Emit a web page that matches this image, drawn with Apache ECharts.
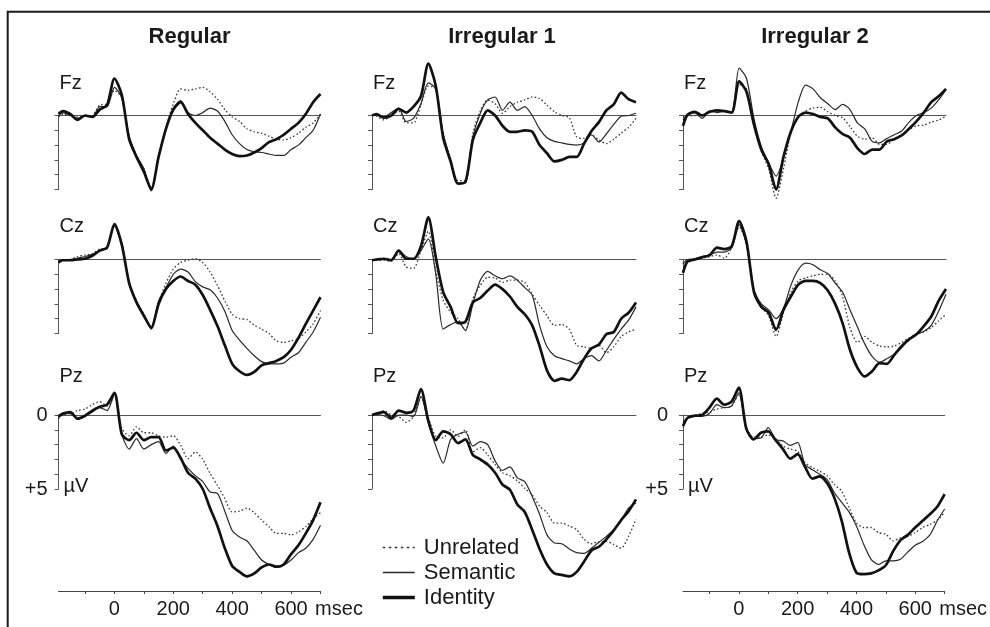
<!DOCTYPE html>
<html><head><meta charset="utf-8">
<script src="https://cdn.jsdelivr.net/npm/echarts@6/dist/echarts.min.js"></script>
<style>html,body{margin:0;padding:0;background:#fff}#c{width:990px;height:627px}</style>
</head><body><div id="c"></div>
<script>
// ---- data (µV, positive plotted downward) ----
const times = [-190,-175,-150,-125,-100,-75,-50,-25,0,25,50,75,100,125,150,175,200,225,250,275,300,325,350,375,400,425,450,475,500,525,550,575,600,625,650,675,700];

const regularFzUnrelated = [0.1,-0.1,0.0,0.1,0.05,0.0,-0.7,-0.8, -1.7,-1.2,1.4,2.7,3.6,4.9,2.7,0.8, -0.8,-1.8,-1.7,-1.8,-1.9,-1.6,-1.1,-0.4, 0.1,0.4,0.9,1.1,1.2,1.4,1.6,1.65, 1.5,1.2,0.8,0.5,-0.1];
const regularFzSemantic  = [0.0,-0.2,0.0,0.2,0.0,0.1,-0.6,-0.6, -1.9,-1.2,1.4,2.7,3.6,5.1,2.8,0.9, -0.5,-1.0,-0.2,0.0,-0.2,-0.5,-0.3,0.4, 1.3,1.9,2.3,2.45,2.5,2.6,2.7,2.7, 2.3,2.0,1.5,1.0,-0.1];
const regularFzIdentity  = [-0.1,-0.3,-0.1,0.3,0.0,0.1,-0.4,-0.7, -2.5,-1.4,1.6,2.8,3.8,5.0,2.8,0.9, -0.4,-0.9,-0.1,0.5,1.0,1.5,1.9,2.3, 2.6,2.75,2.7,2.5,2.2,1.8,1.6,1.3, 0.9,0.5,-0.1,-0.9,-1.45];

const regularCzUnrelated = [0.15,0.05,0.0,-0.2,-0.3,-0.4,-0.7,-0.8, -2.2,-1.1,1.5,2.8,3.7,4.6,2.9,1.6, 0.65,0.2,0.05,-0.05,0.2,0.85,1.75,2.8, 3.7,4.0,4.05,4.45,4.7,5.0,5.5,5.6, 5.5,5.35,4.9,4.35,3.45];
const regularCzSemantic  = [0.1,0.0,0.0,-0.1,-0.2,-0.35,-0.6,-0.8, -2.3,-1.0,1.6,2.9,3.8,4.7,2.8,1.9, 1.0,0.65,0.85,1.5,1.85,2.05,2.6,3.5, 4.8,5.45,6.0,6.5,6.9,7.05,7.05,7.0, 6.6,6.3,5.6,4.9,3.9];
const regularCzIdentity  = [0.2,0.05,0.05,0.0,-0.05,-0.25,-0.6,-0.8, -2.4,-1.0,1.6,2.9,3.8,4.6,3.0,2.0, 1.45,1.15,1.45,1.7,2.4,3.4,4.5,5.8, 7.05,7.55,7.8,7.6,7.15,7.0,6.85,6.6, 6.1,5.3,4.35,3.45,2.55];

const regularPzUnrelated = [0.25,0.0,-0.1,-0.3,-0.4,-0.7,-0.9,-0.6, -1.3,0.9,1.4,0.8,1.2,1.2,1.4,1.5, 1.4,2.05,2.95,2.5,3.0,3.95,4.75,5.65, 6.55,6.5,6.3,6.6,7.1,7.55,8.0,8.0, 8.1,7.9,7.55,7.0,6.6];
const regularPzSemantic  = [0.15,-0.05,-0.1,0.3,0.1,-0.2,-0.5,-0.3, -1.4,1.3,2.3,1.6,2.3,2.0,1.8,2.6, 2.1,3.0,3.6,4.1,4.5,5.2,5.3,6.5, 7.8,8.25,8.5,9.15,9.8,10.1,10.3,10.15, 9.8,9.3,9.0,8.4,7.45];
const regularPzIdentity  = [0.1,-0.1,-0.2,0.25,0.05,-0.3,-0.55,-0.7, -1.5,1.3,1.7,1.2,1.7,1.5,1.5,2.4, 2.2,2.9,3.9,4.3,5.0,6.3,7.5,9.0, 10.2,10.6,10.9,10.7,10.3,10.1,10.25,10.1, 9.4,8.8,8.0,7.1,5.9];

const irregular1FzUnrelated = [0.0,0.05,0.3,0.0,-0.3,0.5,0.5,-0.7, -2.0,-1.8,1.2,2.9,4.4,4.4,1.2,-0.3, -1.05,-0.8,-0.15,-0.6,-0.9,-1.05,-1.25,-1.15, -0.7,-0.25,0.0,0.15,1.45,1.55,1.3,1.65, 1.9,1.6,1.2,0.8,0.2];
const irregular1FzSemantic  = [0.0,0.0,0.1,-0.2,-0.5,0.4,0.2,-0.8, -2.2,-1.8,1.3,3.0,4.6,4.5,1.45,-0.15, -1.05,-1.25,-0.35,-0.9,-0.35,-0.6,0.0,0.9, 1.5,1.75,1.85,1.95,2.0,1.85,1.3,1.8, 1.25,0.6,0.05,0.0,-0.15];
const irregular1FzIdentity  = [0.0,-0.1,0.15,0.0,-0.45,-0.2,-0.6,-1.3, -3.5,-2.0,1.5,3.1,4.6,4.5,1.65,0.5, -0.35,0.0,0.7,1.1,1.1,1.0,1.1,2.0, 2.55,3.1,3.0,2.8,2.8,1.9,1.05,0.45, -0.35,-0.75,-1.55,-1.1,-0.9];

const irregular1CzUnrelated = [0.05,0.05,0.05,0.1,-0.4,0.5,0.6,-0.6, -1.9,0.75,2.75,3.55,4.0,4.8,2.65,1.75, 1.2,1.25,1.55,1.4,1.4,1.55,2.35,3.1, 3.8,4.45,4.4,4.7,5.8,5.9,6.0,5.8, 6.3,5.9,5.2,4.9,4.7];
const irregular1CzSemantic  = [0.05,0.0,0.0,0.0,-0.6,-0.2,0.0,-0.6, -1.4,1.0,4.7,4.4,4.2,4.8,3.0,1.4, 0.8,1.1,1.3,1.1,1.4,1.9,2.4,4.45, 5.9,6.5,6.7,6.85,7.05,6.7,6.5,6.85, 6.15,5.4,4.7,4.1,3.2];
const irregular1CzIdentity  = [0.05,0.0,-0.05,0.05,-0.6,-0.05,-0.05,-0.9, -2.85,-0.15,2.2,3.2,4.3,4.2,2.9,2.6, 2.1,1.7,2.0,2.5,3.2,3.7,4.45,5.85, 7.5,8.2,8.05,8.15,7.6,6.7,6.0,5.75, 5.05,4.9,4.0,3.6,2.9];

const irregular1PzUnrelated = [0.0,0.0,-0.3,0.0,0.1,0.5,0.1,-1.2, 0.2,1.45,1.55,1.0,1.45,1.0,2.5,2.2, 2.7,3.35,3.9,4.1,4.45,4.95,5.4,6.15, 6.6,7.3,7.3,7.5,7.75,8.4,8.7,8.55, 8.55,8.75,9.0,8.2,7.05];
const irregular1PzSemantic  = [0.0,-0.05,0.05,0.3,0.0,0.0,0.1,-1.25, 0.55,2.1,3.25,1.65,1.3,1.15,2.1,1.8, 2.0,3.1,3.75,3.5,4.25,4.5,5.5,6.7, 8.1,8.65,8.7,9.05,9.3,9.35,9.0,8.6, 8.2,7.75,7.1,6.3,5.95];
const irregular1PzIdentity  = [0.0,-0.1,-0.2,0.2,-0.3,-0.15,-0.3,-1.75, 0.4,1.7,1.1,1.3,1.9,1.65,2.7,3.0, 3.35,3.9,4.7,5.05,6.05,6.55,7.75,9.05, 10.1,10.7,10.8,10.9,10.6,9.9,9.15,8.9, 8.4,7.8,7.1,6.5,5.7];

const irregular2FzUnrelated = [0.1,0.05,0.0,0.0,-0.2,-0.3,-0.3,-0.2, -2.1,-1.8,0.5,2.4,3.6,5.6,3.6,1.2, 0.1,-0.3,-0.5,-0.55,-0.25,0.0,0.15,0.75, 1.4,1.6,1.5,1.95,1.95,1.6,1.3,0.95, 0.7,0.65,0.45,0.3,0.05];
const irregular2FzSemantic  = [0.3,0.0,-0.2,0.2,-0.3,-0.2,-0.3,-0.2, -3.2,-2.5,0.2,2.1,3.2,4.1,2.9,1.1, -0.9,-2.05,-1.8,-1.2,-0.8,-0.4,-0.75,-0.4, 0.5,0.9,1.75,1.85,1.55,1.3,1.05,0.45, 0.0,-0.2,-0.5,-1.05,-1.75];
const irregular2FzIdentity  = [0.7,-0.05,-0.25,0.0,-0.25,-0.35,-0.3,-0.2, -2.3,-1.6,0.6,2.3,3.3,5.0,2.8,1.1, 0.1,-0.2,-0.1,0.1,0.2,0.8,1.25,1.5, 2.2,2.6,2.3,2.3,1.75,1.6,1.35,0.9, 0.4,-0.2,-0.9,-1.3,-1.8];

const irregular2CzUnrelated = [0.3,0.05,0.0,-0.1,-0.2,-0.3,-0.1,-0.8, -2.2,-1.0,2.0,3.2,3.8,5.2,3.6,2.2, 1.45,1.25,1.1,1.0,1.0,1.45,2.5,4.6, 5.6,5.2,5.6,5.85,5.9,5.85,5.6,5.3, 5.05,4.9,4.6,4.15,3.7];
const irregular2CzSemantic  = [0.3,0.0,-0.05,-0.2,-0.3,-0.5,-0.5,-0.8, -2.35,-1.0,2.0,3.0,3.4,4.0,3.3,1.75, 0.7,0.25,0.35,0.7,0.95,1.6,2.2,3.4, 4.55,5.7,6.55,6.95,6.7,6.4,5.95,5.4, 5.05,4.85,4.45,3.5,2.35];
const irregular2CzIdentity  = [0.9,0.15,0.0,-0.15,-0.3,-0.8,-0.7,-0.9, -2.6,-1.2,2.2,3.2,3.6,4.75,3.4,2.5, 1.7,1.45,1.45,1.6,2.1,3.0,4.3,6.1, 7.3,7.9,7.55,7.0,7.05,6.45,5.85,5.4, 5.05,4.5,3.85,2.8,2.0];

const irregular2PzUnrelated = [0.85,0.2,0.0,-0.1,-0.2,-0.4,-0.5,-0.6, -1.4,0.8,1.5,1.5,1.35,1.6,2.1,2.3, 2.45,3.2,3.55,3.8,4.1,4.7,5.15,6.25, 7.3,7.6,7.6,7.95,8.05,8.5,8.3,8.2, 7.95,7.6,7.4,7.1,6.6];
const irregular2PzSemantic  = [0.5,0.2,0.1,0.1,-0.1,-0.7,-0.5,-0.6, -1.5,0.9,1.6,1.55,0.85,1.65,1.75,2.05, 1.85,3.35,3.7,4.0,4.35,5.25,5.9,6.55, 7.5,8.75,9.75,10.1,9.85,9.85,9.75,9.25, 8.8,8.55,8.1,7.15,6.35];
const irregular2PzIdentity  = [0.75,0.2,0.05,0.0,-0.5,-1.1,-0.7,-0.9, -1.85,0.9,1.65,1.2,1.1,1.7,2.3,2.95, 2.65,3.5,4.3,4.15,4.6,5.6,7.15,9.3, 10.65,10.75,10.7,10.5,10.15,9.2,8.45,8.1, 7.6,7.15,6.7,6.2,5.35];

const conditions = ['Regular', 'Irregular 1', 'Irregular 2'];
const electrodes = ['Fz', 'Cz', 'Pz'];
const seriesNames = ['Unrelated', 'Semantic', 'Identity'];
const xTickValues = [-100, 0, 100, 200, 300, 400, 500, 600, 700];
const xLabelValues = [0, 200, 400, 600, 700];
const yTickLabels = {0: '0', 5: '+5'};

const panelData = [
  [[regularFzUnrelated, regularFzSemantic, regularFzIdentity],
   [regularCzUnrelated, regularCzSemantic, regularCzIdentity],
   [regularPzUnrelated, regularPzSemantic, regularPzIdentity]],
  [[irregular1FzUnrelated, irregular1FzSemantic, irregular1FzIdentity],
   [irregular1CzUnrelated, irregular1CzSemantic, irregular1CzIdentity],
   [irregular1PzUnrelated, irregular1PzSemantic, irregular1PzIdentity]],
  [[irregular2FzUnrelated, irregular2FzSemantic, irregular2FzIdentity],
   [irregular2CzUnrelated, irregular2CzSemantic, irregular2CzIdentity],
   [irregular2PzUnrelated, irregular2PzSemantic, irregular2PzIdentity]]
];

// ---- layout / style ----
const FONT = '"Liberation Sans", Arial, Helvetica, sans-serif';
const INK = '#1a1a1a';
const colLeft = [58.5, 372, 683];
const colWidth = [262, 264, 263];
const rowTop = [115.5, 259.5, 415];
const rowHeight = 74;
const labelMargin = [11, 11, 15];
const lineStyles = [
  {color: '#3a3a3a', width: 1.3, type: [1.6, 2.2]},
  {color: '#2a2a2a', width: 1.2, type: 'solid'},
  {color: '#111111', width: 2.7, type: 'solid'}
];
const legendLineStyles = [
  {color: '#333', width: 1.6, type: [2.5, 3.5]},
  {color: '#2a2a2a', width: 1.4, type: 'solid'},
  {color: '#111', width: 3.6, type: 'solid'}
];

const grids = [], xAxes = [], yAxes = [], series = [], graphics = [];
let g = 0;
for (let c = 0; c < 3; c++) {
  for (let r = 0; r < 3; r++) {
    grids.push({left: colLeft[c], top: rowTop[r], width: colWidth[c], height: rowHeight, containLabel: false});
    // baseline (zero line)
    const baseX = xAxes.length;
    xAxes.push({
      gridIndex: g, type: 'value', min: -190, max: 700, position: 'top',
      axisLine: {show: true, onZero: false, lineStyle: {color: '#555', width: 1}},
      axisTick: {show: false}, axisLabel: {show: false}, splitLine: {show: false}
    });
    const showLabels = (r === 2 && c !== 1);
    if (showLabels) {
      xAxes.push({
        gridIndex: g, type: 'value', min: -190, max: 700, position: 'bottom', offset: 102,
        minInterval: 100, maxInterval: 100,
        axisLine: {show: true, onZero: false, lineStyle: {color: '#444', width: 1}},
        axisTick: {show: true, length: 3, inside: false, customValues: xTickValues, lineStyle: {color: '#444'}},
        axisLabel: {
          show: true, margin: 8, fontSize: 20, fontFamily: FONT, color: INK,
          customValues: xLabelValues,
          formatter: v => v === 700 ? '{m|msec}' : (xLabelValues.indexOf(v) >= 0 ? String(v) : ''),
          rich: {m: {fontSize: 20, fontFamily: FONT, color: INK, padding: [0, 0, 0, 37]}}
        },
        splitLine: {show: false}
      });
    }
    yAxes.push({
      gridIndex: g, type: 'value', min: 0, max: 5, interval: 1, inverse: true, position: 'left',
      axisLine: {show: true, onZero: false, lineStyle: {color: '#555', width: 1}},
      axisTick: {show: true, length: 4, lineStyle: {color: '#555'}},
      axisLabel: {
        show: showLabels, margin: labelMargin[c], fontSize: 20, fontFamily: FONT, color: INK,
        formatter: v => (yTickLabels[v] !== undefined ? yTickLabels[v] : '')
      },
      splitLine: {show: false}
    });
    for (let s = 0; s < 3; s++) {
      const vals = panelData[c][r][s];
      series.push({
        type: 'line', name: seriesNames[s], xAxisIndex: baseX, yAxisIndex: g,
        data: times.map((t, k) => [t, vals[k]]),
        symbol: 'none', showSymbol: false, clip: false, smooth: 0.25,
        itemStyle: {color: lineStyles[s].color},
        lineStyle: lineStyles[s], z: 2 + s, silent: true
      });
    }
    // electrode label
    graphics.push({type: 'text', x: colLeft[c] + 1, y: [83.5, 226, 376.5][r],
      style: {text: electrodes[r], font: '20px ' + FONT, fill: INK, textAlign: 'left', textVerticalAlign: 'middle'}});
    if (showLabels) {
      graphics.push({type: 'text', x: colLeft[c] + 5, y: rowTop[r] + rowHeight - 3,
        style: {text: 'µV', font: '20px ' + FONT, fill: INK, textAlign: 'left', textVerticalAlign: 'middle'}});
    }
    g++;
  }
}
// column titles
const titleX = [189.5, 502, 815];
for (let c = 0; c < 3; c++) {
  graphics.push({type: 'text', x: titleX[c], y: 37,
    style: {text: conditions[c], font: 'bold 22px ' + FONT, fill: INK, textAlign: 'center', textVerticalAlign: 'middle'}});
}
// frame
graphics.unshift({type: 'rect', shape: {x: 7.7, y: 11.7, width: 1200, height: 900},
  style: {fill: 'none', stroke: INK, lineWidth: 2}, z: -1});

const chart = echarts.init(document.getElementById('c'), null, {renderer: 'canvas'});
chart.setOption({
  animation: false,
  backgroundColor: '#fff',
  grid: grids, xAxis: xAxes, yAxis: yAxes, series: series,
  legend: {
    data: seriesNames.map((n, i) => ({name: n, lineStyle: legendLineStyles[i]})),
    orient: 'vertical', left: 376, top: 530,
    itemWidth: 32, itemHeight: 14, itemGap: 0, selectedMode: false,
    itemStyle: {opacity: 0},
    textStyle: {fontSize: 22, fontFamily: FONT, color: INK, lineHeight: 25, padding: [0, 0, 0, 4]}
  },
  graphic: graphics
});
</script>
</body></html>
